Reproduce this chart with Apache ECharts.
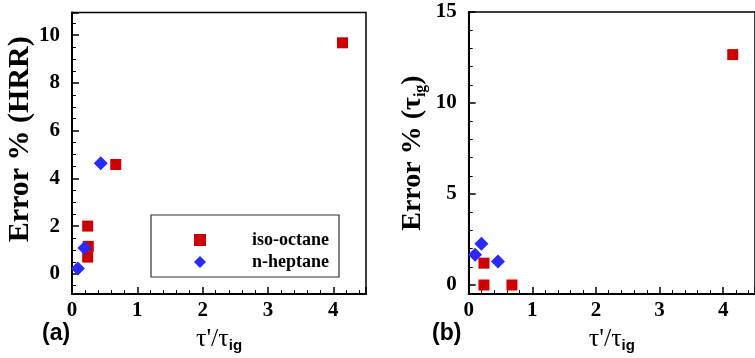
<!DOCTYPE html>
<html><head><meta charset="utf-8">
<script src="https://cdn.jsdelivr.net/npm/echarts@6/dist/echarts.min.js"></script>
<style>html,body{margin:0;padding:0;background:#fff}#c{width:755px;height:358px}</style>
</head><body><div id="c"></div><script>
// Panel (a): Error % (HRR)
const isoHRR_x = [4.14, 0.67, 0.24, 0.25, 0.24];
const isoHRR_y = [9.68, 4.58, 2.0, 1.15, 0.7];
const hepHRR_x = [0.44, 0.19, 0.09];
const hepHRR_y = [4.63, 1.08, 0.22];
// Panel (b): Error % (tau_ig)
const isoTau_x = [4.15, 0.24, 0.24, 0.68];
const isoTau_y = [12.66, 1.2, 0.0, 0.0];
const hepTau_x = [0.10, 0.20, 0.46];
const hepTau_y = [1.66, 2.26, 1.29];
const seriesNames = ['iso-octane', 'n-heptane'];
const panelLabels = ['(a)', '(b)'];

const RED = '#d00000', BLUE = '#2828ff';
const serif = 'Liberation Serif';
const zip = (xs, ys) => xs.map((x, i) => [x, ys[i]]);
const intFmt = v => (Math.abs(v - Math.round(v)) < 1e-9 ? String(Math.round(v)) : '');

function xAx(gi) {
  return {
    type: 'value', gridIndex: gi, min: 0, max: 4.5, splitNumber: 5,
    axisLine: { show: true, onZero: false, lineStyle: { color: '#000', width: 2 } },
    axisTick: { show: true, inside: true, length: 7, lineStyle: { color: '#000', width: 1.5 } },
    minorTick: { show: true, splitNumber: 5, length: 4, lineStyle: { color: '#000', width: 1 } },
    splitLine: { show: false },
    axisLabel: { show: true, showMaxLabel: false, margin: 6, color: '#000', fontFamily: serif, fontWeight: 'bold', fontSize: 21, formatter: intFmt },
    name: '{t|τ\'/τ}{s|ig}', nameLocation: 'middle', nameGap: 28,
    nameTextStyle: { rich: {
      t: { fontFamily: serif, fontSize: 26, color: '#000', lineHeight: 28 },
      s: { fontFamily: 'Liberation Sans', fontWeight: 'bold', fontSize: 15, color: '#000', verticalAlign: 'bottom', lineHeight: 6 }
    } }
  };
}
function yAx(gi, min, max, split, minorSplit, name, gap, pad, fs) {
  return {
    type: 'value', gridIndex: gi, min: min, max: max, splitNumber: split,
    axisLine: { show: true, onZero: false, lineStyle: { color: '#000', width: 2 } },
    axisTick: { show: true, inside: true, length: 7, lineStyle: { color: '#000', width: 1.5 } },
    minorTick: { show: true, splitNumber: minorSplit, length: 4, lineStyle: { color: '#000', width: 1 } },
    splitLine: { show: false },
    axisLabel: { show: true, showMinLabel: false, margin: 12, color: '#000', fontFamily: serif, fontWeight: 'bold', fontSize: 21, formatter: intFmt },
    name: name, nameLocation: 'middle', nameGap: gap, nameRotate: 90,
    nameTextStyle: { fontFamily: serif, fontWeight: 'bold', fontSize: fs, color: '#000', padding: pad,
      rich: {
        t: { fontFamily: serif, fontWeight: 'bold', fontSize: fs, color: '#000', lineHeight: 32 },
        s: { fontFamily: serif, fontWeight: 'bold', fontSize: 16, color: '#000', verticalAlign: 'bottom', lineHeight: 8 }
      } }
  };
}

const option = {
  backgroundColor: '#fff',
  animation: false,
  title: [
    { text: panelLabels[0], left: 42, top: 322, padding: 0, textStyle: { fontFamily: 'Liberation Sans', fontWeight: 'bold', fontSize: 23, color: '#000' } },
    { text: panelLabels[1], left: 432, top: 322, padding: 0, textStyle: { fontFamily: 'Liberation Sans', fontWeight: 'bold', fontSize: 23, color: '#000' } }
  ],
  grid: [
    { left: 72, top: 12.5, width: 294, height: 283.5, show: true, borderColor: '#000', borderWidth: 1.5, containLabel: false },
    { left: 468.7, top: 12, width: 293, height: 285.7, show: true, borderColor: '#000', borderWidth: 1.5, containLabel: false }
  ],
  legend: {
    left: 151, top: 215, orient: 'vertical',
    padding: [16, 10, 6, 43],
    itemWidth: 12, itemHeight: 12, itemGap: 4,
    borderColor: '#333', borderWidth: 1.2,
    data: seriesNames,
    textStyle: { fontFamily: serif, fontWeight: 'bold', fontSize: 18, color: '#000', padding: [0, 0, 0, 41] }
  },
  xAxis: [xAx(0), xAx(1)],
  yAxis: [
    yAx(0, -0.85, 10.95, 6, 4, 'Error % (HRR)', 33, [0, 0, 0, 28], 30),
    yAx(1, -0.5, 15, 3, 5, 'Error % ({t|τ}{s|ig})', 40, [0, 0, 0, 0], 28)
  ],
  series: [
    { name: seriesNames[0], type: 'scatter', xAxisIndex: 0, yAxisIndex: 0, symbol: 'rect', symbolSize: 11, itemStyle: { color: RED, opacity: 1 }, data: zip(isoHRR_x, isoHRR_y) },
    { name: seriesNames[1], type: 'scatter', xAxisIndex: 0, yAxisIndex: 0, symbol: 'diamond', symbolSize: 14, itemStyle: { color: BLUE, opacity: 1 }, data: zip(hepHRR_x, hepHRR_y) },
    { name: seriesNames[0], type: 'scatter', xAxisIndex: 1, yAxisIndex: 1, symbol: 'rect', symbolSize: 11, itemStyle: { color: RED, opacity: 1 }, data: zip(isoTau_x, isoTau_y) },
    { name: seriesNames[1], type: 'scatter', xAxisIndex: 1, yAxisIndex: 1, symbol: 'diamond', symbolSize: 14, itemStyle: { color: BLUE, opacity: 1 }, data: zip(hepTau_x, hepTau_y) }
  ]
};
const chart = echarts.init(document.getElementById('c'), null, { renderer: 'canvas' });
chart.setOption(option);
</script></body></html>
